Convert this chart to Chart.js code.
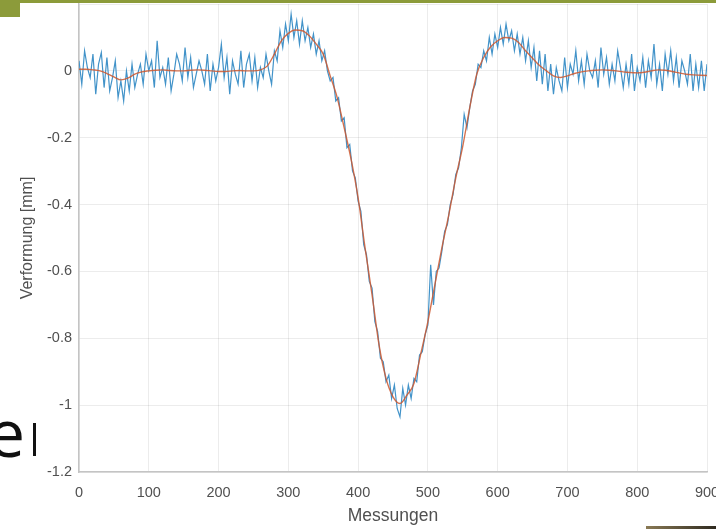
<!DOCTYPE html>
<html>
<head>
<meta charset="utf-8">
<script src="https://cdn.jsdelivr.net/npm/chart.js@4"></script>
<style>
  html, body { margin: 0; padding: 0; background: #ffffff; overflow: hidden; width: 716px; height: 529px; }
  #wrap { position: absolute; left: 0; top: 0; width: 740px; height: 529px; }
  #band { position: absolute; left: 0; top: 0; width: 716px; height: 3px; background: #8c9b3a; }
  #block { position: absolute; left: 0; top: 0; width: 20px; height: 17px; background: #8c9b3a; }
  #big { position: absolute; left: -12px; top: 398px; font-family: "Open Sans", sans-serif; font-size: 66px; line-height: 1; color: #111; }
  #cursor { position: absolute; left: 33px; top: 423px; width: 3px; height: 33px; background: #111; }
  #corner { position: absolute; left: 646px; top: 526px; width: 70px; height: 3px; background: linear-gradient(90deg, #8a7a55, #2e2a20); }
</style>
</head>
<body>
<div id="wrap"><canvas id="c" width="740" height="529"></canvas></div>
<div id="band"></div>
<div id="block"></div>
<div id="big">e</div>
<div id="cursor"></div>
<div id="corner"></div>
<script>
// Measurement index step of each series
const measStep = 4;
const smoothStep = 10;

// Raw measured deformation [mm], every 4th measurement (0..900)
const messwerte = [
  0.03, -0.04, 0.06, 0.01, -0.02, 0.05, -0.07, 0.02, 0.055, -0.05,
  0.04, -0.06, -0.02, 0.03, -0.08, -0.03, -0.09, 0.0, -0.06, 0.02,
  -0.05, -0.01, 0.02, -0.04, 0.05, 0.0, 0.03, -0.05, 0.09, -0.02,
  0.01, -0.04, 0.04, -0.06, -0.01, 0.05, 0.02, -0.03, 0.07, -0.02,
  0.04, -0.05, -0.01, 0.03, 0.0, -0.04, 0.05, -0.06, 0.02, -0.03,
  0.01, 0.08, -0.02, 0.04, -0.07, 0.03, -0.01, -0.04, 0.06, -0.05,
  0.02, 0.05, -0.03, 0.04, -0.05, 0.01, -0.02, 0.05, 0.0, -0.04,
  0.06, 0.03, 0.12, 0.07, 0.14, 0.09, 0.17, 0.1, 0.15, 0.08,
  0.15, 0.09, 0.13, 0.07, 0.11, 0.05, 0.09, 0.03, 0.06, 0.0,
  -0.03, -0.02, -0.09, -0.08, -0.15, -0.14, -0.23, -0.22, -0.3, -0.32,
  -0.39, -0.42, -0.52, -0.55, -0.63, -0.65, -0.75, -0.78, -0.86, -0.87,
  -0.93, -0.91, -0.98, -0.94, -1.01, -1.035, -0.95, -1.0, -0.94, -0.98,
  -0.92, -0.93, -0.85, -0.84, -0.79, -0.76, -0.58, -0.7, -0.6, -0.59,
  -0.54, -0.48, -0.46, -0.4, -0.37, -0.31, -0.29, -0.23, -0.13, -0.17,
  -0.11, -0.06, -0.04, 0.02, 0.01, 0.06, 0.03, 0.1, 0.05, 0.11,
  0.07, 0.13, 0.08, 0.14, 0.09, 0.12, 0.06, 0.11, 0.05, 0.1,
  0.03, 0.09, 0.01, 0.07, -0.03, 0.06, -0.04, 0.05, -0.06, 0.02,
  -0.07, 0.01, -0.03, -0.06, 0.04, -0.05, 0.02, -0.01, 0.06, -0.03,
  0.03, -0.04, 0.05, 0.0, -0.02, 0.03, -0.05, 0.07, -0.01, 0.04,
  -0.04, 0.02, -0.03, 0.06, 0.01, -0.05, 0.02, -0.04, 0.05, -0.06,
  0.01, -0.03, 0.04, -0.05, 0.03, -0.02, 0.08, -0.04, 0.02, -0.06,
  0.05, -0.01, 0.06, -0.03, 0.04, -0.05, 0.03, 0.0, -0.04, 0.05,
  -0.06, 0.02, -0.05, 0.03, -0.06, 0.02
];

// Smoothed deformation [mm], every 10th measurement (0..900)
const geglaettet = [
  0.005, 0.005, 0.003, 0.0, -0.008, -0.018, -0.027, -0.022, -0.01, -0.003,
  0.0, 0.002, 0.003, 0.001, 0.0, 0.0, 0.002, 0.003, 0.002, 0.0,
  -0.002, -0.002, 0.0, 0.001, 0.0, 0.0, 0.003, 0.015, 0.05, 0.09,
  0.112, 0.122, 0.12, 0.105, 0.08, 0.05, -0.015, -0.08, -0.17, -0.265,
  -0.38, -0.53, -0.67, -0.82, -0.92, -0.975, -0.995, -0.97, -0.935, -0.845,
  -0.75, -0.64, -0.53, -0.43, -0.32, -0.225, -0.11, -0.01, 0.04, 0.072,
  0.09, 0.1, 0.098, 0.085, 0.06, 0.038, 0.016, 0.0, -0.015, -0.02,
  -0.015, -0.008, -0.003, 0.0, 0.002, 0.003, 0.002, 0.0, -0.003, -0.005,
  -0.006, -0.004, 0.0, 0.003, 0.002, -0.002, -0.006, -0.01, -0.012, -0.013,
  -0.014
];

const xTicks = [0, 100, 200, 300, 400, 500, 600, 700, 800, 900];
const yTicks = [-1.2, -1, -0.8, -0.6, -0.4, -0.2, 0];
const xTitle = 'Messungen';
const yTitle = 'Verformung [mm]';

const rawPts = messwerte.map((v, i) => ({ x: i * measStep, y: v }));
const smoothPts = geglaettet.map((v, i) => ({ x: i * smoothStep, y: v }));

const tickFont = { family: '"Liberation Sans", Arial, sans-serif', size: 14.5 };
const xTitleFont = { family: '"Liberation Sans", Arial, sans-serif', size: 17.5 };
const yTitleFont = { family: '"Liberation Sans", Arial, sans-serif', size: 16 };
const gridColor = 'rgba(0,0,0,0.075)';
const textColor = '#505050';

new Chart(document.getElementById('c'), {
  type: 'line',
  data: {
    datasets: [
      {
        label: 'geglättet',
        data: smoothPts,
        borderColor: 'rgba(205,88,48,0.85)',
        borderWidth: 1.4,
        pointRadius: 0,
        cubicInterpolationMode: 'monotone',
        fill: false
      },
      {
        label: 'Messwerte',
        data: rawPts,
        borderColor: '#4293c9',
        borderWidth: 1.2,
        pointRadius: 0,
        tension: 0,
        fill: false
      }
    ]
  },
  options: {
    responsive: false,
    animation: false,
    devicePixelRatio: 1,
    layout: { padding: { left: 0, top: 4, right: 33, bottom: 0 } },
    plugins: { legend: { display: false }, tooltip: { enabled: false } },
    scales: {
      x: {
        type: 'linear',
        min: 0,
        max: 900,
        afterBuildTicks: (s) => { s.ticks = xTicks.map(v => ({ value: v })); },
        afterFit: (s) => { s.height = 57; s.paddingRight = 0; s.paddingLeft = 0; },
        grid: { color: gridColor, drawTicks: false },
        border: { color: '#c4c4c4', width: 1.5 },
        ticks: { color: textColor, font: tickFont, padding: 12, maxRotation: 0 },
        title: { display: true, text: xTitle, color: textColor, font: xTitleFont, padding: { top: 0, bottom: 2 } }
      },
      y: {
        type: 'linear',
        min: -1.2,
        max: 0.2,
        afterBuildTicks: (s) => { s.ticks = yTicks.concat([0.2]).map(v => ({ value: v })); },
        afterFit: (s) => { s.width = 79; s.paddingTop = 0; s.paddingBottom = 0; },
        grid: { color: gridColor, drawTicks: false },
        border: { color: '#c4c4c4', width: 1.5 },
        ticks: {
          color: textColor, font: tickFont, padding: 7,
          callback: (v) => (v > 0.1 ? '' : String(Math.round(v * 10) / 10))
        },
        title: { display: true, text: yTitle, color: textColor, font: yTitleFont, padding: { top: 18, bottom: 0 } }
      }
    }
  }
});
</script>
</body>
</html>
